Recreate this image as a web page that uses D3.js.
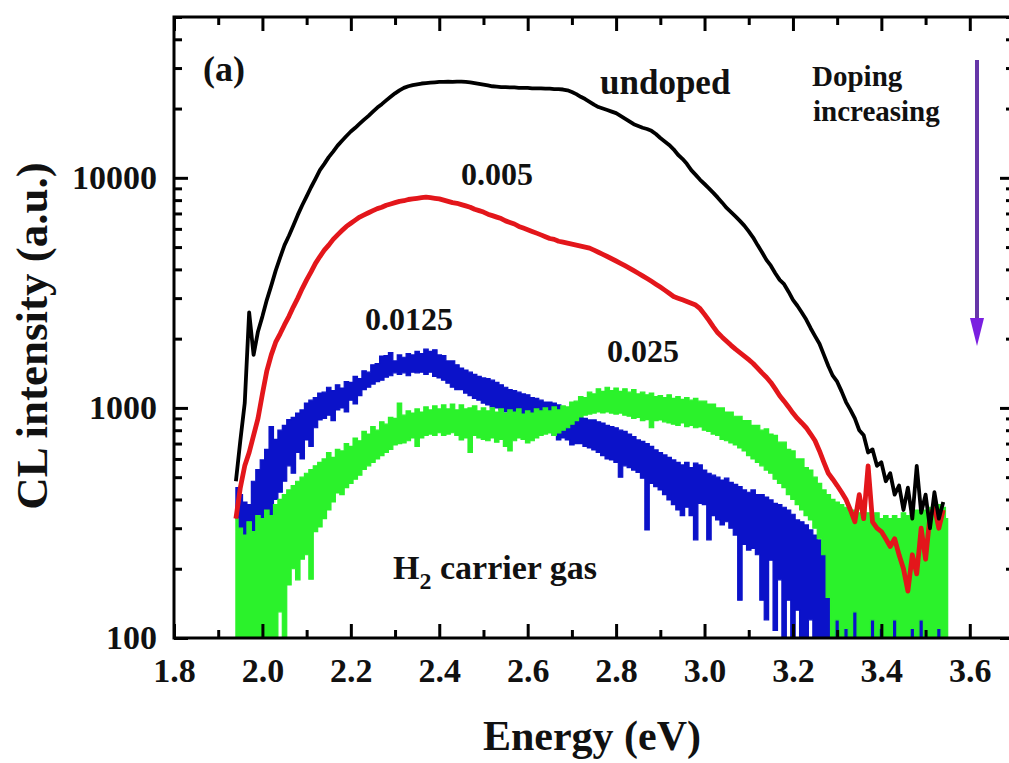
<!DOCTYPE html>
<html>
<head>
<meta charset="utf-8">
<script src="https://cdn.jsdelivr.net/npm/d3@7"></script>
<style>
  html, body { margin: 0; padding: 0; background: #fff; }
  svg { display: block; }
  text { font-family: "Liberation Serif", "Times New Roman", serif; font-weight: bold; fill: #111; }
</style>
</head>
<body>
<svg id="chart" width="1009" height="763"></svg>
<script>
// CL spectra sampled every 0.01 eV starting at 1.94 eV
const E0 = 1.94;
const dE = 0.01;

// undoped sample (counts)
const undoped = [
  480, 720, 1050, 2600, 1700, 2150, 2500, 2950, 3400, 3950,
  4500, 5100, 5600, 6200, 6900, 7600, 8300, 9100, 9900, 10800,
  11500, 12300, 13000, 13800, 14500, 15200, 15900, 16500, 17200, 17900,
  18600, 19400, 20200, 20900, 21700, 22500, 23300, 24000, 24600, 25000,
  25300, 25500, 25700, 25800, 25900, 26000, 26100, 26100, 26200, 26100,
  26200, 26200, 26100, 26000, 25800, 25600, 25400, 25200, 25000, 24900,
  24800, 24800, 24700, 24700, 24600, 24600, 24600, 24500, 24500, 24500,
  24400, 24400, 24300, 24300, 24200, 24000, 23600, 23100, 22500, 22000,
  21400, 20800, 20300, 20000, 19700, 19400, 19100, 18600, 18100, 17600,
  17100, 16800, 16500, 16300, 16000, 15500, 14900, 14400, 13900, 13300,
  12600, 12100, 11500, 10800, 10300, 9800, 9400, 9000, 8600, 8200,
  7800, 7400, 7100, 6800, 6500, 6200, 5850, 5500, 5100, 4750,
  4400, 4150, 3850, 3600, 3450, 3200, 2950, 2780, 2600, 2420,
  2220, 2050, 1900, 1700, 1520, 1380, 1300, 1180, 1060, 980,
  900, 800, 760, 640, 660, 560, 580, 480, 520, 420,
  460, 360, 450, 330, 560, 350, 420, 300, 430, 330,
  390
];

// doping 0.005 (counts)
const doped005 = [
  330, 450, 560, 640, 760, 900, 1150, 1450, 1700, 1930,
  2100, 2300, 2500, 2750, 3000, 3300, 3600, 3900, 4250, 4550,
  4850, 5100, 5400, 5650, 5900, 6150, 6350, 6550, 6750, 6900,
  7050, 7200, 7350, 7450, 7600, 7700, 7800, 7900, 7950, 8050,
  8100, 8150, 8200, 8250, 8200, 8150, 8100, 8000, 7900, 7800,
  7750, 7650, 7550, 7450, 7300, 7200, 7100, 6950, 6850, 6750,
  6650, 6500, 6400, 6300, 6150, 6050, 5950, 5850, 5750, 5650,
  5550, 5450, 5400, 5300, 5250, 5200, 5150, 5100, 5050, 5000,
  4950, 4850, 4750, 4650, 4550, 4450, 4350, 4250, 4150, 4050,
  3950, 3850, 3750, 3650, 3550, 3450, 3350, 3250, 3150, 3050,
  3000, 2950, 2900, 2850, 2800, 2700, 2550, 2400, 2250, 2120,
  2030, 1950, 1870, 1800, 1740, 1680, 1620, 1560, 1490, 1420,
  1360, 1290, 1210, 1130, 1070, 1010, 950, 900, 860, 820,
  770, 720, 650, 580, 520, 490, 460, 430, 400, 360,
  320, 420, 330, 560, 320, 300, 290, 270, 250, 270,
  230, 200, 160, 230, 190, 300, 220, 340, 370, 300,
  360
];

// doping 0.0125: upper and lower edge of the noisy trace (counts)
const doped0125Hi = [
  450, 420, 390, 380, 480, 540, 594, 660, 830, 730,
  800, 840, 890, 910, 950, 980, 1050, 1080, 1110, 1160,
  1170, 1230, 1190, 1260, 1220, 1300, 1290, 1370, 1340, 1450,
  1430, 1540, 1560, 1680, 1690, 1740, 1600, 1700, 1660, 1720,
  1700, 1760, 1720, 1800, 1760, 1790, 1700, 1690, 1600, 1600,
  1540, 1490, 1460, 1430, 1400, 1370, 1350, 1340, 1320, 1290,
  1260, 1230, 1200, 1190, 1170, 1150, 1140, 1110, 1100, 1080,
  1060, 1060, 1050, 1030, 1010, 980, 950, 930, 910, 900,
  887, 887, 870, 860, 840, 830, 820, 800, 790, 770,
  750, 726, 715, 700, 680, 657, 640, 625, 610, 594,
  580, 565, 580, 550, 575, 565, 537, 520, 510, 500,
  486, 495, 475, 465, 455, 440, 430, 440, 420, 420,
  410, 398, 385, 380, 370, 360, 345, 326, 320, 310,
  295, 280, 267, 255, 241, 230, 208, 179, 132, 120,
  146, 170, 150, 190, 160, 200, 180, 220, 230, 200,
  250, 210, 240, 200, 260, 220, 280, 330, 300, 250,
  200
];
const doped0125Lo = [
  330, 260, 230, 200, 200, 240, 275, 300, 330, 400,
  430, 480, 560, 520, 640, 600, 726, 680, 820, 887,
  900, 930, 880, 980, 1000, 960, 1080, 1040, 1130, 1200,
  1230, 1270, 1300, 1320, 1360, 1380, 1420, 1400, 1420, 1380,
  1430, 1420, 1430, 1400, 1430, 1370, 1350, 1320, 1280, 1230,
  1200, 1200, 1160, 1130, 1100, 1080, 1050, 1030, 1010, 1000,
  980, 960, 960, 940, 920, 900, 887, 870, 840, 820,
  800, 790, 760, 726, 740, 726, 690, 700, 700, 680,
  670, 657, 640, 620, 600, 594, 580, 500, 560, 550,
  537, 525, 495, 295, 470, 455, 440, 420, 398, 380,
  360, 340, 370, 340, 267, 385, 380, 267, 340, 326,
  310, 320, 300, 280, 146, 255, 241, 245, 230, 146,
  120, 218, 108, 179, 90, 146, 90, 132, 90, 90,
  120, 90, 90, 90, 90, 90, 90, 90, 90, 90,
  90, 90, 90, 90, 90, 90, 90, 90, 90, 90,
  90, 90, 90, 90, 90, 90, 90, 90, 90, 90,
  90
];

// doping 0.025: upper and lower edge of the noisy trace (counts)
const doped025Hi = [
  330, 300, 280, 320, 290, 340, 330, 360, 340, 380,
  400, 420, 440, 460, 480, 500, 520, 540, 560, 580,
  600, 640, 610, 660, 650, 700, 680, 740, 720, 790,
  770, 830, 800, 870, 850, 910, 900, 1050, 930, 970,
  950, 990, 960, 1010, 980, 1020, 990, 1030, 990, 1040,
  980, 1030, 990, 1000, 1020, 970, 1000, 970, 1000, 960,
  990, 950, 980, 960, 990, 940, 970, 950, 990, 970,
  1000, 970, 1010, 980, 1020, 1010, 1060, 1070, 1120, 1110,
  1170, 1150, 1210, 1180, 1230, 1190, 1220, 1180, 1210, 1170,
  1200, 1150, 1170, 1140, 1160, 1120, 1130, 1110, 1140, 1100,
  1120, 1090, 1110, 1080, 1100, 1070, 1070, 1040, 1040, 1000,
  1000, 960, 960, 920, 920, 880, 880, 840, 840, 800,
  810, 770, 760, 710, 710, 660, 650, 600, 600, 550,
  537, 500, 470, 440, 420, 400, 390, 380, 370, 360,
  360, 350, 360, 350, 340, 350, 330, 340, 330, 340,
  330, 350, 340, 350, 360, 350, 360, 370, 370, 380,
  370, 330
];
const doped025Lo = [
  80, 80, 80, 80, 80, 80, 80, 80, 80, 80,
  130, 80, 170, 200, 179, 220, 230, 180, 290, 304,
  330, 360, 390, 427, 420, 450, 470, 490, 510, 540,
  560, 580, 600, 620, 640, 660, 690, 700, 704, 720,
  740, 680, 740, 760, 770, 760, 780, 760, 770, 780,
  760, 726, 740, 640, 760, 740, 730, 720, 740, 710,
  730, 680, 650, 720, 740, 730, 704, 720, 740, 760,
  770, 778, 760, 778, 800, 820, 850, 880, 914, 930,
  940, 950, 960, 951, 960, 950, 940, 950, 930, 920,
  900, 910, 880, 890, 820, 880, 887, 870, 860, 850,
  840, 860, 830, 840, 820, 827, 800, 790, 770, 760,
  730, 720, 704, 690, 670, 650, 620, 600, 580, 560,
  537, 520, 490, 470, 450, 420, 400, 380, 360, 340,
  326, 300, 270, 230, 150, 90, 120, 90, 110, 90,
  130, 90, 100, 90, 120, 90, 110, 90, 90, 120,
  90, 100, 90, 110, 90, 120, 90, 100, 90, 110,
  90, 90
];

// axis ticks
const xMajorTicks = [1.8, 2.0, 2.2, 2.4, 2.6, 2.8, 3.0, 3.2, 3.4, 3.6];
const xMinorTicks = [1.9, 2.1, 2.3, 2.5, 2.7, 2.9, 3.1, 3.3, 3.5, 3.7];
const yMajorTicks = [100, 1000, 10000];
const yMinorTicks = [200, 300, 400, 500, 600, 700, 800, 900,
                     2000, 3000, 4000, 5000, 6000, 7000, 8000, 9000,
                     20000, 30000, 40000, 50000];

// curve labels
const curveLabels = ["undoped", "0.005", "0.0125", "0.025"];
const curveColors = ["#000000", "#e3161b", "#0b12c9", "#2bf22b"];

// ---------------------------------------------------------------
const svg = d3.select("#chart");
const plot = { left: 174, top: 17, right: 1014, bottom: 638 };

const x = d3.scaleLinear().domain([1.8, 3.7]).range([plot.left, plot.right]);
const y = d3.scaleLog().domain([100, 50000]).range([plot.bottom, plot.top]);

svg.append("defs").append("clipPath").attr("id", "plotClip")
  .append("rect")
  .attr("x", plot.left).attr("y", plot.top)
  .attr("width", plot.right - plot.left).attr("height", plot.bottom - plot.top);

const toLine = vals => vals.map((v, i) => ({ e: E0 + i * dE, v }));
const toBand = (hi, lo) => hi.map((h, i) => ({ e: E0 + i * dE, hi: h, lo: lo[i] }));

const lineGen = d3.line().x(d => x(d.e)).y(d => y(d.v));
const bandGen = d3.area().curve(d3.curveStep)
  .x(d => x(d.e)).y0(d => y(d.lo)).y1(d => y(d.hi));

const traces = svg.append("g").attr("clip-path", "url(#plotClip)");

// noisy heavily doped spectra as min/max bands
[[doped0125Hi, doped0125Lo, curveColors[2]], [doped025Hi, doped025Lo, curveColors[3]]]
  .forEach(([hi, lo, c]) => {
    traces.append("path")
      .datum(toBand(hi, lo))
      .attr("d", bandGen)
      .attr("fill", c)
      .attr("stroke", c)
      .attr("stroke-width", 1.2)
      .attr("stroke-linejoin", "miter");
  });

// lightly doped and undoped spectra as lines
[[doped005, curveColors[1], 4.8], [undoped, curveColors[0], 3.8]]
  .forEach(([vals, c, w]) => {
    traces.append("path")
      .datum(toLine(vals))
      .attr("d", lineGen)
      .attr("fill", "none")
      .attr("stroke", c)
      .attr("stroke-width", w)
      .attr("stroke-linejoin", "round");
  });

// ---------------------------------------------------------------
// axes: ticks point inward on all four sides
const tickFont = "34px";
function styleAxis(g) {
  g.select(".domain").remove();
  g.selectAll(".tick line").attr("stroke", "#000").attr("stroke-width", 3);
  g.selectAll("text")
    .attr("font-family", "'Liberation Serif', 'Times New Roman', serif")
    .attr("font-weight", "bold")
    .attr("font-size", tickFont)
    .attr("fill", "#111");
}

svg.append("g").attr("transform", `translate(0,${plot.bottom})`)
  .call(d3.axisBottom(x).tickValues(xMajorTicks).tickSize(-14).tickPadding(20)
    .tickFormat(d3.format(".1f")))
  .call(styleAxis);
svg.append("g").attr("transform", `translate(0,${plot.bottom})`)
  .call(d3.axisBottom(x).tickValues(xMinorTicks).tickSize(-8).tickFormat(""))
  .call(styleAxis);
svg.append("g").attr("transform", `translate(0,${plot.top})`)
  .call(d3.axisTop(x).tickValues(xMajorTicks).tickSize(-14).tickFormat(""))
  .call(styleAxis);
svg.append("g").attr("transform", `translate(0,${plot.top})`)
  .call(d3.axisTop(x).tickValues(xMinorTicks).tickSize(-8).tickFormat(""))
  .call(styleAxis);

svg.append("g").attr("transform", `translate(${plot.left},0)`)
  .call(d3.axisLeft(y).tickValues(yMajorTicks).tickSize(-14).tickPadding(17)
    .tickFormat(d3.format("d")))
  .call(styleAxis);
svg.append("g").attr("transform", `translate(${plot.left},0)`)
  .call(d3.axisLeft(y).tickValues(yMinorTicks).tickSize(-8).tickFormat(""))
  .call(styleAxis);
svg.append("g").attr("transform", `translate(${plot.right},0)`)
  .call(d3.axisRight(y).tickValues(yMajorTicks).tickSize(-14).tickFormat(""))
  .call(styleAxis);
svg.append("g").attr("transform", `translate(${plot.right},0)`)
  .call(d3.axisRight(y).tickValues(yMinorTicks).tickSize(-8).tickFormat(""))
  .call(styleAxis);

// frame
svg.append("rect")
  .attr("x", plot.left).attr("y", plot.top)
  .attr("width", plot.right - plot.left).attr("height", plot.bottom - plot.top)
  .attr("fill", "none").attr("stroke", "#000").attr("stroke-width", 3);

// axis titles
svg.append("text")
  .attr("x", 592).attr("y", 750)
  .attr("text-anchor", "middle")
  .attr("font-size", 42)
  .text("Energy (eV)");

svg.append("text")
  .attr("transform", "translate(47,336) rotate(-90)")
  .attr("text-anchor", "middle")
  .attr("font-size", 45)
  .text("CL intensity (a.u.)");

// annotations
const notes = svg.append("g");
notes.append("text").attr("x", 203).attr("y", 81).attr("font-size", 36).text("(a)");
notes.append("text").attr("x", 600).attr("y", 94).attr("font-size", 35).text(curveLabels[0]);
notes.append("text").attr("x", 461).attr("y", 185).attr("font-size", 32).text(curveLabels[1]);
notes.append("text").attr("x", 365).attr("y", 330).attr("font-size", 32).text(curveLabels[2]);
notes.append("text").attr("x", 607).attr("y", 362).attr("font-size", 32).text(curveLabels[3]);

const gas = notes.append("text").attr("x", 393).attr("y", 579).attr("font-size", 34);
gas.append("tspan").text("H");
gas.append("tspan").attr("font-size", 24).attr("dy", 10).text("2");
gas.append("tspan").attr("dy", -10).text(" carrier gas");

notes.append("text").attr("x", 812).attr("y", 86).attr("font-size", 29).text("Doping");
notes.append("text").attr("x", 813).attr("y", 121).attr("font-size", 29).text("increasing");

// doping direction arrow
const arrowX = 977;
notes.append("line")
  .attr("x1", arrowX).attr("x2", arrowX).attr("y1", 60).attr("y2", 322)
  .attr("stroke", "#6636a8").attr("stroke-width", 4);
notes.append("path")
  .attr("d", `M${arrowX - 7},318 L${arrowX + 7},318 L${arrowX},346 Z`)
  .attr("fill", "#7a1fe0");
</script>
</body>
</html>
